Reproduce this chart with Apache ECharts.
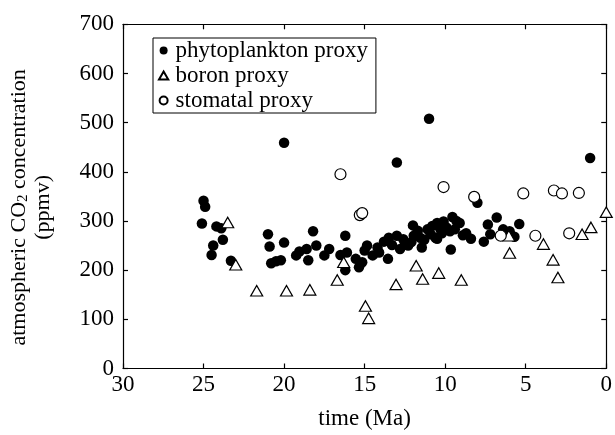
<!DOCTYPE html>
<html>
<head>
<meta charset="utf-8">
<script src="https://cdn.jsdelivr.net/npm/echarts@6/dist/echarts.min.js"></script>
<style>html,body{margin:0;padding:0;background:#fff}#c{width:615px;height:435px}</style>
</head>
<body>
<div id="c"></div>
<script>
// time (Ma), CO2 (ppmv)
const phytoplankton = [
  [25.0,341],[24.9,329],[25.1,295],[24.2,289],[23.9,285],[24.4,250],[23.8,262],[24.5,231],[23.3,219],
  [21.0,273],[20.9,248],[20.8,214],[20.5,218],[20.2,220],[20.0,256],[20.0,459],
  [19.25,230],[19.05,238],[18.6,243],[18.5,220],[18.2,279],[18.0,250],[17.5,230],[17.2,243],
  [16.2,270],[16.5,231],[16.1,236],[16.2,200],[15.55,223],[15.35,206],[15.15,216],[15.0,240],[14.85,250],
  [14.5,230],[14.1,236],[14.2,246],[13.8,258],[13.55,223],[13.5,266],[13.3,251],[13.0,270],[12.8,243],[12.6,263],[12.5,255],[12.3,250],
  [13.0,419],[12.1,257],[12.0,291],[11.95,270],[11.7,280],[11.55,266],[11.45,246],[11.3,262],[11.1,283],[11.0,508],[10.9,273],
  [10.8,290],[10.6,266],[10.5,296],[10.5,264],[10.3,283],[10.2,275],[10.1,299],
  [10.0,289],[9.9,286],[9.7,279],[9.65,242],[9.55,308],[9.4,283],[9.3,300],[9.1,296],[8.9,271],[8.7,275],[8.4,264],[8.0,337],
  [7.6,258],[7.35,293],[7.2,273],[6.8,307],[6.4,283],[6.0,279],[5.7,268],[5.4,294],[1.0,428]
];
const boron = [
  [23.5,297],[23.0,211],[21.7,158],[19.85,158],[18.4,160],[16.7,180],[16.3,216],[14.95,127],[14.75,102],
  [13.05,171],[11.8,209],[11.4,182],[10.4,194],[9.0,180],[6.05,270],[6.0,235],[3.9,253],[3.3,221],
  [3.0,185],[1.5,273],[0.95,287],[0.0,318]
];
const stomatal = [
  [16.5,395],[15.3,312],[15.15,316],[10.1,369],[8.2,349],[6.55,270],[5.15,356],[4.4,270],
  [3.25,362],[2.75,356],[2.3,275],[1.7,357]
];
const seriesNames = ['phytoplankton proxy','boron proxy','stomatal proxy'];
const xTitle = 'time (Ma)';

const FONT = 'Liberation Serif';
const FS = 23;
const chart = echarts.init(document.getElementById('c'), null, {renderer:'canvas'});
const tri = 'path://M0,-10L8.66,5L-8.66,5Z';
const axisCommon = {
  axisLine:{show:true,onZero:false,lineStyle:{color:'#000',width:1.2}},
  axisTick:{show:true,inside:true,length:5,lineStyle:{color:'#000',width:1.2}},
  splitLine:{show:false}
};
chart.setOption({
  animation:false,
  backgroundColor:'#fff',
  grid:{left:120.7,right:7.7,top:24.3,bottom:60},
  legend:{
    orient:'vertical',left:153,top:38,
    data:seriesNames,
    borderColor:'#000',borderWidth:1,borderRadius:0,
    padding:[0,8,0,5],itemGap:0,itemWidth:14,itemHeight:8,symbolKeepAspect:true,
    textStyle:{fontFamily:FONT,fontSize:23,color:'#000',lineHeight:25}
  },
  xAxis:[
    Object.assign({type:'value',min:0,max:30,interval:5,inverse:true,position:'bottom',
      name:xTitle,nameLocation:'middle',nameGap:50,
      nameTextStyle:{fontFamily:FONT,fontSize:FS,color:'#000',verticalAlign:'middle'},
      axisLabel:{fontFamily:FONT,fontSize:FS,color:'#000',margin:5}},axisCommon),
    Object.assign({type:'value',min:0,max:30,interval:5,inverse:true,position:'top',
      axisLabel:{show:false}},axisCommon)
  ],
  yAxis:[
    Object.assign({type:'value',min:0,max:700,interval:100,position:'left',
      name:'{a|atmospheric CO}{s|2}{a| concentration}\n{a|(ppmv)}',
      nameLocation:'middle',nameGap:92,nameRotate:90,
      nameTextStyle:{fontFamily:FONT,fontSize:22,color:'#000',align:'center',verticalAlign:'middle',
        padding:[0,22,0,0],
        rich:{a:{fontFamily:FONT,fontSize:22,color:'#000',lineHeight:24},
              s:{fontFamily:FONT,fontSize:15,color:'#000',lineHeight:14,verticalAlign:'bottom'}}},
      axisLabel:{fontFamily:FONT,fontSize:FS,color:'#000',margin:9}},axisCommon),
    Object.assign({type:'value',min:0,max:700,interval:100,position:'right',
      axisLabel:{show:false}},axisCommon)
  ],
  series:[
    {name:seriesNames[0],type:'scatter',data:phytoplankton,symbol:'circle',symbolSize:10.5,
      itemStyle:{color:'#000',borderWidth:0,opacity:1}},
    {name:seriesNames[1],type:'scatter',data:boron,symbol:tri,symbolSize:[12,10.5],
      itemStyle:{color:'#fff',borderColor:'#000',borderWidth:1.2,opacity:1}},
    {name:seriesNames[2],type:'scatter',data:stomatal,symbol:'circle',symbolSize:11,
      itemStyle:{color:'#fff',borderColor:'#000',borderWidth:1.2,opacity:1}}
  ]
});
</script>
</body>
</html>
